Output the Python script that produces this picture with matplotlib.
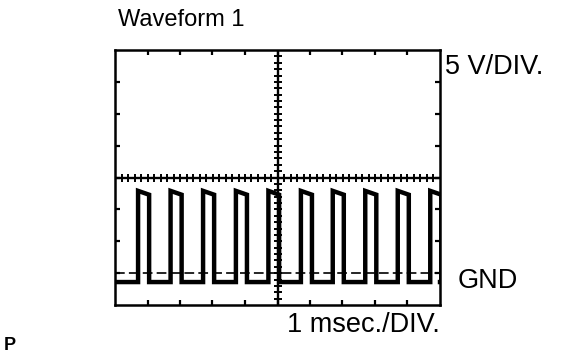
import matplotlib
matplotlib.use('Agg')
import matplotlib.pyplot as plt
import numpy as np

plt.rcParams['font.family'] = ['Liberation Sans', 'DejaVu Sans']
plt.rcParams['lines.scale_dashes'] = False

# waveform edges (msec) and levels (V)
rise_ms = [0.71, 1.71, 2.71, 3.72, 4.72, 5.72, 6.70, 7.70, 8.70, 9.70]
fall_ms = [1.05, 2.05, 3.05, 4.06, 5.05, 6.06, 7.04, 8.04, 9.04, 10.04]
high_start_v = 12.9
high_end_v = 12.3
low_v = -1.4
gnd_v = 0.0

# screen: 10 x 8 divisions, 1 msec/div, 5 V/div, GND one division up
x_div = 10
y_div = 8
volts_per_div = 5
y_bottom = gnd_v - volts_per_div

W, H = 562, 357
fig = plt.figure(figsize=(W / 100, H / 100), dpi=100)
ax = fig.add_axes([115 / W, 1 - 305 / H, 325 / W, 255 / H])
ax.set_xlim(0, x_div)
ax.set_ylim(y_bottom, y_bottom + y_div * volts_per_div)

for s in ax.spines.values():
    s.set_linewidth(1.8)
ax.set_xticks(np.arange(1, x_div))
ax.set_yticks(y_bottom + volts_per_div * np.arange(1, y_div))
ax.tick_params(direction='in', length=3.5, width=1.6, top=True, right=True,
               labelbottom=False, labelleft=False)

# centre graticule with small marks every 0.2 div
xc = x_div / 2
yc = y_bottom + y_div / 2 * volts_per_div
ax.axhline(yc, color='black', lw=1.7)
ax.axvline(xc, color='black', lw=1.7)
fine_x = np.arange(0.2, x_div, 0.2)
fine_y = y_bottom + volts_per_div * np.arange(0.2, y_div, 0.2)
ax.plot(fine_x, np.full_like(fine_x, yc), ls='none', marker='|', ms=5.5, mew=1.4, color='black')
ax.plot(np.full_like(fine_y, xc), fine_y, ls='none', marker='_', ms=5.5, mew=1.4, color='black')

# GND reference
ax.axhline(gnd_v, color='black', lw=1.2, dashes=(7, 3))

# pulse train
t = [0.0]
v = [low_v]
for r, f in zip(rise_ms, fall_ms):
    t += [r, r, f, f]
    v += [low_v, high_start_v, high_end_v, low_v]
t.append(x_div)
v.append(low_v)
ax.plot(t, v, color='black', lw=3.2, solid_joinstyle='miter')

def label(x, y, s, **kw):
    fig.text(x / W, 1 - y / H, s, va='center', **kw)

label(118, 20, 'Waveform 1', fontsize=17)
label(445, 67, '5 V/DIV.', fontsize=19.5)
label(458, 281, 'GND', fontsize=19.5)
label(287, 325, '1 msec./DIV.', fontsize=19.5)
label(4, 346, 'P', fontsize=13, fontweight='bold')

fig.savefig('out.png', dpi=100)
